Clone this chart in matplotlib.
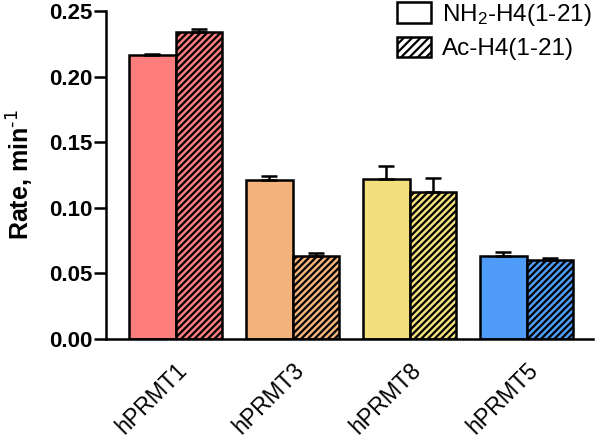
import matplotlib.pyplot as plt
import matplotlib.patches as mpatches
import numpy as np

plt.rcParams['font.family'] = ['Liberation Sans', 'DejaVu Sans']
plt.rcParams['mathtext.default'] = 'regular'
plt.rcParams['hatch.linewidth'] = 1.6

enzymes = ['hPRMT1', 'hPRMT3', 'hPRMT8', 'hPRMT5']
colors = ['#FD7C7C', '#F4B27C', '#F3E07C', '#4E9CF8']

# NH2-H4(1-21)
nh2_rate = [0.2165, 0.121, 0.1217, 0.063]
nh2_err = [0.0005, 0.003, 0.010, 0.0035]
# Ac-H4(1-21)
ac_rate = [0.234, 0.063, 0.112, 0.060]
ac_err = [0.002, 0.0025, 0.011, 0.0015]

fig = plt.figure(figsize=(6, 4.41), dpi=100)
ax = fig.add_axes([106/600, 1 - 339/441, (593 - 106)/600, 328/441])

x = np.arange(len(enzymes))
w = 0.40

ax.bar(x - w/2, nh2_rate, w, color=colors, edgecolor='black', linewidth=1.8,
       yerr=[np.zeros(4), nh2_err], capsize=6,
       error_kw=dict(elinewidth=1.8, capthick=1.8, ecolor='black'), zorder=2)
ax.bar(x + w/2, ac_rate, w, color=colors, edgecolor='black', linewidth=1.8,
       hatch='/////', yerr=[np.zeros(4), ac_err], capsize=6,
       error_kw=dict(elinewidth=1.8, capthick=1.8, ecolor='black'), zorder=2)

ax.set_xlim(-0.594, 3.568)
ax.set_ylim(0, 0.25)
ax.set_yticks([0, 0.05, 0.10, 0.15, 0.20, 0.25])
ax.set_yticklabels(['0.00', '0.05', '0.10', '0.15', '0.20', '0.25'],
                   fontweight='bold', fontsize=16)
ax.set_xticks(x)
ax.set_xticklabels(enzymes, rotation=45, ha='right', rotation_mode='anchor',
                   fontsize=16.5)
ax.tick_params(axis='x', length=0, pad=14)
ax.tick_params(axis='y', length=9, width=1.8, direction='out', pad=1)
ax.set_ylabel('Rate, min$^{\\text{-1}}$', fontsize=18, fontweight='bold', labelpad=9)

for s in ['top', 'right']:
    ax.spines[s].set_visible(False)
for s in ['left', 'bottom']:
    ax.spines[s].set_linewidth(1.8)

h1 = mpatches.Patch(facecolor='white', edgecolor='black', linewidth=1.8)
h2 = mpatches.Patch(facecolor='white', edgecolor='black', linewidth=1.8, hatch='////')
fig.legend([h1, h2], ['NH$_2$-H4(1-21)', 'Ac-H4(1-21)'], frameon=False,
           fontsize=17.5, loc='upper left', bbox_to_anchor=(397/600, 1 - 2/441),
           borderpad=0, borderaxespad=0, handlelength=1.4, handleheight=0.95,
           handletextpad=0.45, labelspacing=0.35)

fig.savefig('out.png', dpi=100)
